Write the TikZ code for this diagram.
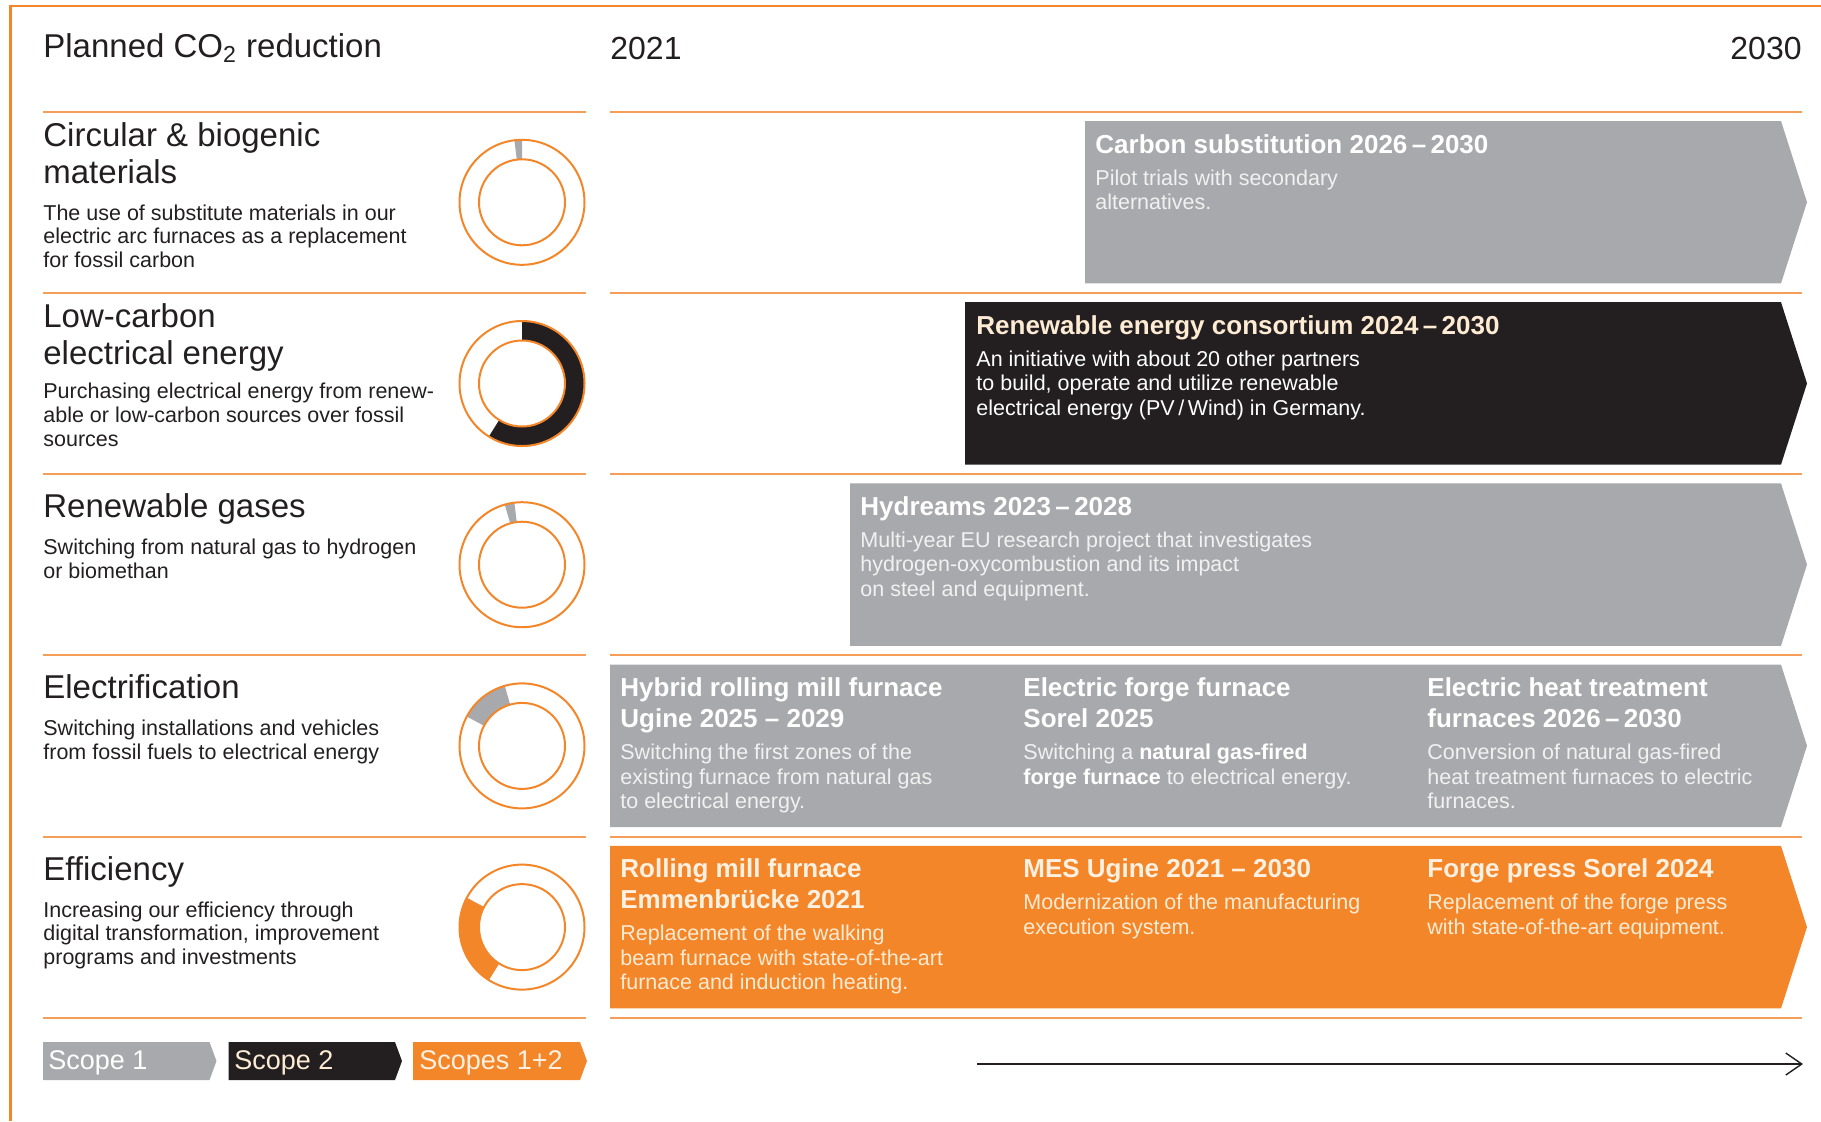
\documentclass[tikz,border=0pt]{standalone}
\usepackage{fontspec}
\setmainfont{Liberation Sans}
\usetikzlibrary{calc,arrows.meta}

\definecolor{accent}{HTML}{F4862A}
\definecolor{rulec}{HTML}{F59E5A}
\definecolor{stone}{HTML}{A7A9AC}
\definecolor{ink}{HTML}{231F20}
\definecolor{cream}{HTML}{FDEBD3}
\definecolor{mist}{HTML}{F1F1F2}
\definecolor{peach}{HTML}{FFF1E2}

\newcommand{\fs}[2]{\fontsize{#1}{#2}\selectfont}

% chevron-ended timeline bar: left x, top y, bottom y, colour
\newcommand{\chevbar}[4]{%
  \fill[#4] (#1,#2) -- (1781,#2) -- (1807,{(#2+#3)/2}) -- (1781,#3) -- (#1,#3) -- cycle;}
% ring sector of a donut: centre name, start angle, end angle, colour
\newcommand{\ringpart}[4]{%
  \fill[#4] ($(#1)+(#2:62.5)$) arc[start angle=#2, end angle=#3, radius=62.5]
    -- ($(#1)+(#3:43)$) arc[start angle=#3, end angle=#2, radius=43] -- cycle;}
% small legend tag: left x, right x, colour
\newcommand{\tagshape}[3]{%
  \fill[#3] (#1,1042) -- (#2,1042) -- ({#2+7},1061) -- (#2,1080) -- (#1,1080) -- cycle;}

% multi-line nodes are placed by the baseline of their last line
\tikzset{
  frame/.style={draw=accent, line width=1.3pt},
  sep/.style={draw=rulec, line width=1pt},
  heading/.style={anchor=base west, inner sep=0, align=left, text=ink, font=\fs{16.5}{18.3}},
  blurb/.style={anchor=base west, inner sep=0, align=left, text=ink, font=\fs{10.75}{11.8}},
  bartitle/.style={anchor=base west, inner sep=0, align=left, font=\bfseries\fs{13}{15.5}},
  bartext/.style={anchor=base west, inner sep=0, align=left, font=\fs{10.75}{12.25}},
  ring/.style={draw=accent, line width=1pt},
  tagtext/.style={anchor=base west, inner sep=0, font=\fs{13.5}{15}},
}

\begin{document}
\begin{tikzpicture}[x=0.5pt,y=-0.5pt]
\useasboundingbox (0,0) rectangle (1821,1121);

% outer frame (top and left edge)
\draw[frame] (10.3,6) -- (1821,6);
\draw[frame] (10.3,4.7) -- (10.3,1121);

% column headers
\node[heading] (title) at (43,57) {Planned CO\textsubscript{2} reduction};
\node[anchor=base west, inner sep=0, text=ink, font=\fs{16}{18}] (ystart) at (610,59) {2021};
\node[anchor=base east, inner sep=0, text=ink, font=\fs{16}{18}] (yend) at (1802,59) {2030};

% row separators
\foreach \y in {111.7,292.9,474.1,655.3,836.5,1017.7}{
  \draw[sep] (43,\y) -- (586,\y);
  \draw[sep] (610,\y) -- (1802,\y);
}

% ---------- left column: levers ----------
\node[heading] (h1) at (43,183.3) {Circular \& biogenic\\materials};
\node[blurb] (b1) at (43,267.5) {The use of substitute materials in our\\electric arc furnaces as a replacement\\for fossil carbon};

\node[heading] (h2) at (43,364.5) {Low-carbon\\electrical energy};
\node[blurb] (b2) at (43,446) {Purchasing electrical energy from renew-\\able or low-carbon sources over fossil\\sources};

\node[heading] (h3) at (43,517.6) {Renewable gases};
\node[blurb] (b3) at (43,578.2) {Switching from natural gas to hydrogen\\or biomethan};

\node[heading] (h4) at (43,698.8) {Electrification};
\node[blurb] (b4) at (43,759.4) {Switching installations and vehicles\\from fossil fuels to electrical energy};

\node[heading] (h5) at (43,880) {Efficiency};
\node[blurb] (b5) at (43,964.2) {Increasing our efficiency through\\digital transformation, improvement\\programs and investments};

% ---------- donuts (shares of the whole circle) ----------
\coordinate (d1) at (522,202.3);
\coordinate (d2) at (522,383.5);
\coordinate (d3) at (522,564.7);
\coordinate (d4) at (522,745.9);
\coordinate (d5) at (522,927.1);

\ringpart{d1}{-90}{-97}{stone}
\ringpart{d2}{122}{-90}{ink}
\ringpart{d3}{-97}{-106}{stone}
\ringpart{d4}{-106}{-152}{stone}
\ringpart{d5}{-152}{-238}{accent}

\foreach \d in {d1,d2,d3,d4,d5}{
  \draw[ring] (\d) circle[radius=62.5];
  \draw[ring] (\d) circle[radius=43];
}

% ---------- timeline bars ----------
\chevbar{1085}{121}{283.4}{stone}
\node[bartitle, text=white] (t1) at (1095,153) {Carbon substitution 2026\,–\,2030};
\node[bartext, text=mist] (x1) at (1095,209.5) {Pilot trials with secondary\\alternatives.};

\chevbar{965}{302.2}{464.6}{ink}
\node[bartitle, text=cream] (t2) at (976,334.2) {Renewable energy consortium 2024\,–\,2030};
\node[bartext, text=white] (x2) at (976,415.2) {An initiative with about 20 other partners\\to build, operate and utilize renewable\\electrical energy (PV\,/\,Wind) in Germany.};

\chevbar{850}{483.4}{645.8}{stone}
\node[bartitle, text=white] (t3) at (860,515.4) {Hydreams 2023\,–\,2028};
\node[bartext, text=mist] (x3) at (860,596.4) {Multi-year EU research project that investigates\\hydrogen-oxycombustion and its impact\\on steel and equipment.};

\chevbar{610}{664.6}{827}{stone}
\node[bartitle, text=white] (t4a) at (620,727.6) {Hybrid rolling mill furnace\\Ugine 2025 – 2029};
\node[bartext, text=mist] (x4a) at (620,808.6) {Switching the first zones of the\\existing furnace from natural gas\\to electrical energy.};
\node[bartitle, text=white] (t4b) at (1023,727.6) {Electric forge furnace\\Sorel 2025};
\node[bartext, text=mist] (x4b) at (1023,784.1) {Switching a {\bfseries\color{white}natural gas-fired}\\{\bfseries\color{white}forge furnace} to electrical energy.};
\node[bartitle, text=white] (t4c) at (1427,727.6) {Electric heat treatment\\furnaces 2026\,–\,2030};
\node[bartext, text=mist] (x4c) at (1427,808.6) {Conversion of natural gas-fired\\heat treatment furnaces to electric\\furnaces.};

\chevbar{610}{845.8}{1008.4}{accent}
\node[bartitle, text=peach] (t5a) at (620,908.8) {Rolling mill furnace\\Emmenbrücke 2021};
\node[bartext, text=cream] (x5a) at (620,989.8) {Replacement of the walking\\beam furnace with state-of-the-art\\furnace and induction heating.};
\node[bartitle, text=peach] (t5b) at (1023,877.8) {MES Ugine 2021 – 2030};
\node[bartext, text=cream] (x5b) at (1023,934.3) {Modernization of the manufacturing\\execution system.};
\node[bartitle, text=peach] (t5c) at (1427,877.8) {Forge press Sorel 2024};
\node[bartext, text=cream] (x5c) at (1427,934.3) {Replacement of the forge press\\with state-of-the-art equipment.};

% ---------- legend ----------
\tagshape{43}{209.5}{stone}
\node[tagtext, text=white] (s1) at (48,1069) {Scope 1};
\tagshape{228.5}{395}{ink}
\node[tagtext, text=cream] (s2) at (234,1069) {Scope 2};
\tagshape{413}{580}{accent}
\node[tagtext, text=peach] (s3) at (419,1069) {Scopes 1+2};

% time axis
\coordinate (ax0) at (977,1064);
\coordinate (ax1) at (1803,1064);
\draw[ink, line width=0.7pt, -{Straight Barb[length=8pt,width=11pt,line width=0.7pt]}] (ax0) -- (ax1);

\end{tikzpicture}
\end{document}
